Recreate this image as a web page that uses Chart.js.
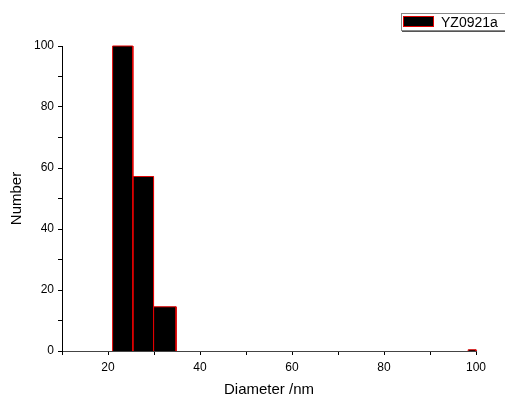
<!DOCTYPE html>
<html>
<head>
<meta charset="utf-8">
<script src="https://cdn.jsdelivr.net/npm/chart.js@4/dist/chart.umd.min.js"></script>
<style>
  body { margin: 0; background: #fff; }
  #wrap { position: relative; width: 505px; height: 397px; }
  #legend {
    position: absolute; left: 401px; top: 13px; width: 104px; height: 16px;
    border: 1px solid #888; border-right: none; box-shadow: 1px 1px 0 #555;
    font-family: "Liberation Sans", Arial, sans-serif; font-size: 14px;
    line-height: 16px; white-space: nowrap;
  }
  #legend .swatch {
    position: absolute; left: 1px; top: 2px; width: 31px; height: 11px;
    background: #000; border: 1px solid #e00000; box-sizing: border-box;
  }
  #legend .label { position: absolute; left: 39px; top: 0px; }
</style>
</head>
<body>
<div id="wrap">
  <canvas id="chart" width="505" height="397"></canvas>
  <div id="legend"><span class="swatch"></span><span class="label">YZ0921a</span></div>
</div>
<script>
// histogram bins (nm) and counts
let seriesName = "YZ0921a";
let binStart = [21.0, 25.4, 29.9, 98.3];
let binEnd = [25.4, 29.9, 34.8, 100];
let counts = [100, 57.2, 14.5, 0.4];

let xTicks = [20, 40, 60, 80, 100];
let yTicks = [0, 20, 40, 60, 80, 100];

let font = "'Liberation Sans', Arial, sans-serif";

// one filled outline per bin
let datasets = [];
for (let i = 0; i < counts.length; i++) {
    datasets.push({
        label: seriesName,
        data: [
            { x: binStart[i], y: 0 },
            { x: binStart[i], y: counts[i] },
            { x: binEnd[i], y: counts[i] },
            { x: binEnd[i], y: 0 }
        ],
        showLine: true,
        fill: "origin",
        backgroundColor: "#000",
        borderColor: "#e00000",
        borderWidth: 1,
        pointRadius: 0,
        tension: 0,
        clip: 3
    });
}

let ctx = document.getElementById("chart").getContext("2d");
new Chart(ctx, {
    type: "scatter",
    data: { datasets: datasets },
    options: {
        responsive: false,
        animation: false,
        events: [],
        layout: { padding: { top: 46, right: 29, left: 0, bottom: 0 } },
        plugins: { legend: { display: false }, tooltip: { enabled: false } },
        scales: {
            x: {
                type: "linear",
                min: 10, max: 100,
                afterFit: function (scale) { scale.height = 46; },
                grid: { drawOnChartArea: false, tickLength: 4, tickColor: "#000" },
                border: { color: "#444", width: 1 },
                ticks: {
                    stepSize: 10, autoSkip: false, maxRotation: 0, padding: 5,
                    color: "#000", font: { family: font, size: 12 },
                    callback: function (v) { return xTicks.includes(v) ? String(v) : ""; }
                },
                title: {
                    display: true, text: "Diameter /nm", color: "#000",
                    font: { family: font, size: 15, lineHeight: 1 }, padding: { top: 0, bottom: 0 }
                }
            },
            y: {
                min: 0, max: 100,
                afterFit: function (scale) { scale.width = 62; },
                grid: { drawOnChartArea: false, tickLength: 4, tickColor: "#000" },
                border: { color: "#000", width: 1 },
                ticks: {
                    stepSize: 10, autoSkip: false, padding: 4,
                    color: "#000", font: { family: font, size: 12 },
                    callback: function (v) { return yTicks.includes(v) ? String(v) : ""; }
                },
                title: {
                    display: true, text: "Number", color: "#000",
                    font: { family: font, size: 15 }, padding: { top: 8, bottom: 0 }
                }
            }
        }
    }
});
</script>
</body>
</html>
